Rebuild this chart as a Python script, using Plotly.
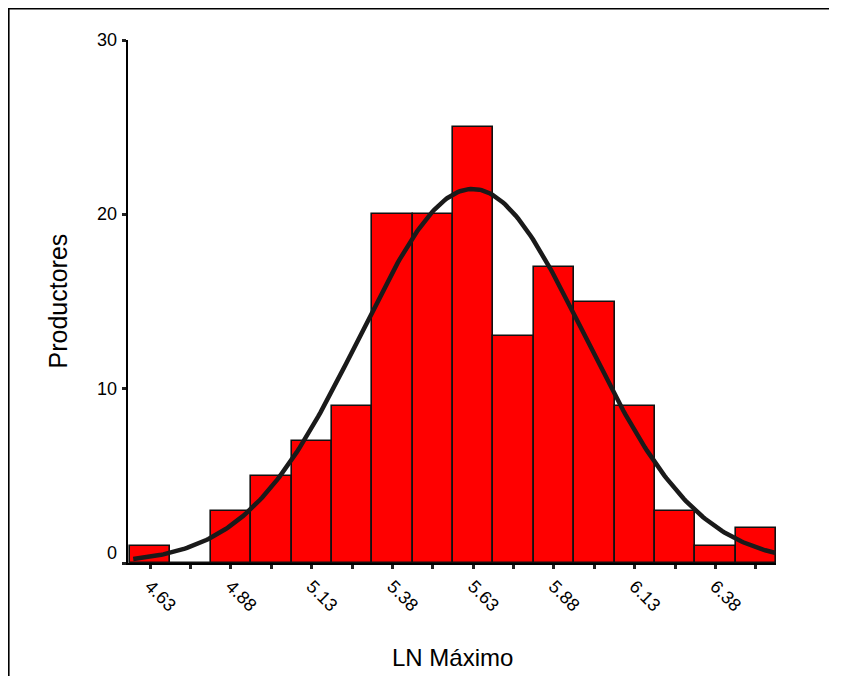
import numpy as np
import plotly.graph_objects as go

# ---- data ----
bin_start_center = 4.63
bin_width = 0.125
counts = [1, 0, 3, 5, 7, 9, 20, 20, 25, 13, 17, 15, 9, 3, 1, 2]
x_tick_labels = ["4.63", "4.88", "5.13", "5.38", "5.63", "5.88", "6.13", "6.38"]
y_tick_values = [0, 10, 20, 30]
y_tick_labels = ["0", "10", "20", "30"]
x_title = "LN Máximo"
y_title = "Productores"

centers = [round(bin_start_center + i * bin_width, 4) for i in range(len(counts))]

# fitted normal curve from histogram data
c = np.array(centers)
n = np.array(counts)
N = n.sum()
mean = (c * n).sum() / N
sd = np.sqrt(((c - mean) ** 2 * n).sum() / (N - 1))
lo = centers[0] - bin_width / 2
hi = centers[-1] + bin_width / 2
xc = np.linspace(lo + 0.01, hi, 300)
yc = N * bin_width / (sd * np.sqrt(2 * np.pi)) * np.exp(-0.5 * ((xc - mean) / sd) ** 2)

font = "Arial, Liberation Sans, sans-serif"

# page body has an 8px margin: lay out in figure coordinates (window - 8)
W, H = 831, 668
PL, PR, PT, PB = 120, 768, 32, 555

fig = go.Figure()
fig.add_trace(go.Bar(
    x=centers, y=counts, width=bin_width,
    marker=dict(color="#ff0000", line=dict(color="#111111", width=1.6)),
    hoverinfo="x+y",
))
fig.add_trace(go.Scatter(
    x=xc, y=yc, mode="lines",
    line=dict(color="#1a1a1a", width=4.5),
))

tickvals = centers
ticktext = []
for i in range(len(centers)):
    ticktext.append(x_tick_labels[i // 2] if i % 2 == 0 else "")

pxu = (PR - PL - 2) / (hi - lo)
x0 = lo - 2 / pxu

fig.update_layout(
    width=W, height=H,
    paper_bgcolor="white", plot_bgcolor="white",
    margin=dict(l=PL, r=W - PR, t=PT, b=H - PB, pad=0),
    showlegend=False,
    bargap=0,
    font=dict(family=font, color="black"),
    xaxis=dict(
        range=[x0, hi],
        tickvals=tickvals, ticktext=ticktext,
        tickangle=45,
        ticks="outside", ticklen=4, tickwidth=3, tickcolor="#222222",
        tickfont=dict(size=18, family=font, color="black"),
        showline=True, linecolor="black", linewidth=1.5,
        showgrid=False, zeroline=False,
    ),
    yaxis=dict(
        range=[0, 30],
        tickvals=y_tick_values,
        showticklabels=False,
        ticks="outside", ticklen=4, tickwidth=3, tickcolor="#222222",
        showline=True, linecolor="black", linewidth=1.5,
        showgrid=False, zeroline=False,
    ),
)

px_x = lambda p: (p - PL) / (PR - PL)
px_y = lambda p: (PB - p) / (PB - PT)

annotations = []
for v, t in zip(y_tick_values, y_tick_labels):
    annotations.append(dict(
        x=0, xref="paper", y=v, yref="y", text=t, showarrow=False,
        xanchor="right", yanchor="middle", xshift=-9,
        yshift=(10 if v == 0 else 0),
        font=dict(size=18, family=font, color="black"),
    ))
annotations.append(dict(
    x=0.5, xref="paper", y=px_y(649), yref="paper", text=x_title,
    showarrow=False, xanchor="center", yanchor="middle",
    font=dict(size=24, family=font, color="black"),
))
annotations.append(dict(
    x=px_x(49), xref="paper", y=0.5, yref="paper", text=y_title,
    showarrow=False, xanchor="center", yanchor="middle", textangle=-90,
    font=dict(size=25, family=font, color="black"),
))
fig.update_layout(annotations=annotations)

# outer frame (partially visible, as in the reference)
fig.add_shape(type="path", xref="paper", yref="paper",
              path=f"M {px_x(0.8)},{px_y(H)} L {px_x(0.8)},{px_y(0.8)} L {px_x(W - 10)},{px_y(0.8)}",
              line=dict(color="black", width=1.6))

fig.write_html("out.html")
